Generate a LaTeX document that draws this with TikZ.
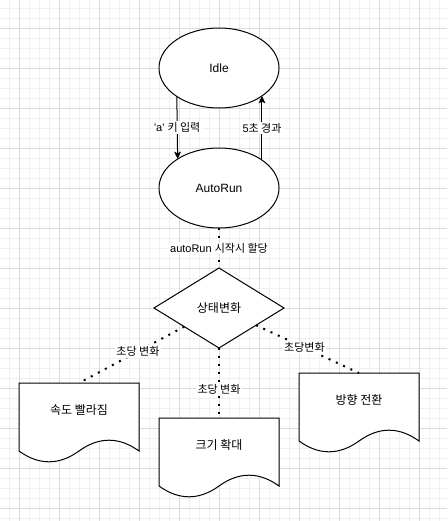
\documentclass[tikz,border=0pt]{standalone}
\usepackage{fontspec}
\setmainfont{Liberation Sans}
\newfontfamily\kr{Noto Sans CJK KR}
\usetikzlibrary{shapes.geometric,arrows.meta,calc}
\tikzset{
  minorgrid/.style={draw=black!6, line width=0.75pt},
  majorgrid/.style={draw=black!14, line width=0.75pt},
  ellnode/.style={ellipse, draw=black, fill=white, line width=0.75pt, minimum width=90pt, minimum height=60pt, inner sep=0pt, outer sep=0pt, font=\fontsize{9}{11}\selectfont},
  dianode/.style={diamond, draw=black, fill=white, line width=0.75pt, minimum width=97.5pt, minimum height=60pt, inner sep=0pt, outer sep=0pt, font=\fontsize{9}{11}\selectfont\kr},
  docbox/.style={rectangle, minimum width=90pt, minimum height=60pt, inner sep=0pt, outer sep=0pt},
  doctext/.style={inner sep=0pt, font=\fontsize{9}{11}\selectfont\kr},
  docline/.style={draw=black, fill=white, line width=0.75pt},
  arrowedge/.style={draw=black, line width=0.75pt, -{Stealth[length=5.5pt,width=5pt,inset=1.2pt]}},
  dotedge/.style={draw=black, line width=1.5pt, dash pattern=on 1.5pt off 4.5pt},
  elabel/.style={fill=white, inner sep=1pt, font=\fontsize{8.25}{10}\selectfont}
}
\newcommand\docshape[1]{%
  \path[docline] (#1.north west) -- (#1.north east) -- ($(#1.north west)+(120,68)$)
    .. controls ($(#1.north west)+(100,53.6)$) and ($(#1.north west)+(80,53.6)$) .. ($(#1.north west)+(60,68)$)
    .. controls ($(#1.north west)+(40,82.4)$) and ($(#1.north west)+(20,82.4)$) .. ($(#1.north west)+(0,68)$)
    -- cycle;}
\begin{document}
\begin{tikzpicture}[x=0.75pt,y=-0.75pt]
\useasboundingbox (0,0) rectangle (447,521);
\fill[white] (0,0) rectangle (447,521);
% grid
\foreach \i in {0,...,44} \draw[minorgrid] (9+10*\i,0) -- (9+10*\i,521);
\foreach \j in {0,...,51} \draw[minorgrid] (0,8+10*\j) -- (447,8+10*\j);
\foreach \i in {0,...,10} \draw[majorgrid] (19+40*\i,0) -- (19+40*\i,521);
\foreach \j in {0,...,12} \draw[majorgrid] (0,28+40*\j) -- (447,28+40*\j);

% nodes
\node[ellnode] (idle) at (219,68) {Idle};
\node[ellnode] (auto) at (219,188) {AutoRun};
\node[dianode] (state) at (219,308) {상태변화};
\node[docbox] (speed) at (79,423) {};
\node[docbox] (size) at (219,458) {};
\node[docbox] (turn) at (359,413) {};
\docshape{speed}
\docshape{size}
\docshape{turn}
\node[doctext] (speedtext) at ($(speed.north)+(0,27)$) {속도 빨라짐};
\node[doctext] (sizetext) at ($(size.north)+(0,27)$) {크기 확대};
\node[doctext] (turntext) at ($(turn.north)+(0,27)$) {방향 전환};

% edges
\draw[arrowedge] (idle.214.2) -- node[elabel] {\textquotesingle a\textquotesingle{} {\kr 키 입력}} (auto.145.8);
\draw[arrowedge] (auto.33) -- node[elabel] {5{\kr 초 경과}} (idle.327);
\draw[dotedge] (auto) -- node[elabel] {autoRun {\kr 시작시 할당}} (state);
\draw[dotedge] (state) -- node[elabel, pos=0.44] {\kr 초당 변화} (speed.north);
\draw[dotedge] (state) -- node[elabel, pos=0.59] {\kr 초당 변화} (size.north);
\draw[dotedge] (state) -- node[elabel, pos=0.47] {\kr 초당변화} (turn.north);
\end{tikzpicture}
\end{document}
